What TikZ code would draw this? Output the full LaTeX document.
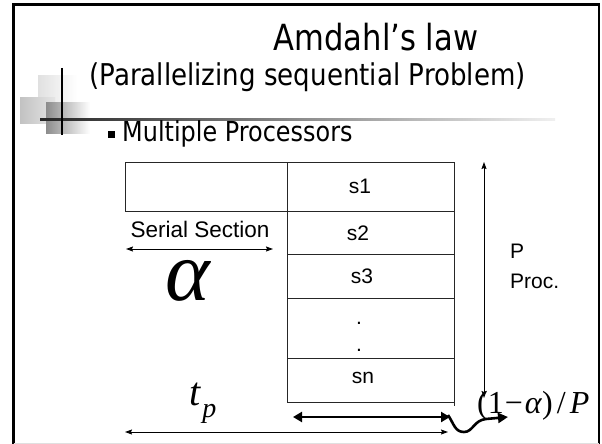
\documentclass[tikz,border=0pt]{standalone}
\usepackage{fontspec}
\setmainfont{Liberation Sans}
\newfontfamily\tah[FakeStretch=0.87]{DejaVu Sans}
\newfontfamily\tahT[FakeStretch=0.85]{DejaVu Sans}
\newfontfamily\tnr{Liberation Serif}
\usetikzlibrary{arrows.meta}
\begin{document}
\begin{tikzpicture}[x=1pt,y=-1pt,
  thinarr/.style={line width=0.9pt, {Stealth[length=7pt,width=5pt,inset=1pt]}-{Stealth[length=7pt,width=5pt,inset=1pt]}},
  thickarr/.style={line width=2.8pt, {Triangle[length=9pt,width=10pt]}-{Triangle[length=9pt,width=10pt]}},
  cellline/.style={draw=black!85, line width=0.9pt},
  lbl/.style={font=\fontsize{21}{21}\selectfont, inner sep=0pt, anchor=base},
  tahtext/.style={inner sep=0pt, anchor=base}
]
\useasboundingbox (0,0) rectangle (602,444);
% slide frame
\draw[line width=2.5pt] (13.5,445) -- (13.5,4.5) -- (599,4.5) -- (599,445);
\draw[black!12, line width=1pt] (13.5,443) -- (599,443);
% decoration
\shade[left color=black!12, right color=white] (38,75) rectangle (77,105);
\shade[left color=black!24, right color=black!10] (20,97) rectangle (55,123);
\shade[left color=black!45, middle color=black!38, right color=white] (46,102) rectangle (90,133);
\shade[left color=black!85, right color=black!6] (40,118) rectangle (555,120);
\draw[line width=1.3pt] (62,68) -- (62,135);
% titles
\node[tahtext, font=\tahT\fontsize{36}{36}\selectfont] (title) at (376,51) {Amdahl’s law};
\node[tahtext, font=\tah\fontsize{30}{30}\selectfont] (subtitle) at (307.5,85) {(Parallelizing sequential Problem)};
\node[fill, minimum size=7pt, inner sep=0pt] (bullet) at (111,134) {};
\node[tahtext, anchor=base west, font=\tah\fontsize{27.5}{27.5}\selectfont] (mp) at (122,141) {Multiple Processors};
% table
\draw[cellline] (125,162) -- (454,162);
\draw[cellline] (125,162) -- (125,211);
\draw[cellline] (125,211) -- (454,211);
\draw[cellline] (454,162) -- (454,406);
\draw[cellline] (287,162) -- (287,402);
\draw[cellline] (287,254) -- (454,254);
\draw[cellline] (287,298) -- (454,298);
\draw[cellline] (287,358) -- (454,358);
\draw[cellline] (287,402) -- (454,402);
\node[lbl] (s1) at (360,193) {s1};
\node[lbl] (s2) at (358,240) {s2};
\node[lbl] (s3) at (362,283) {s3};
\node[lbl] (d1) at (359,324) {.};
\node[lbl] (d2) at (359,351) {.};
\node[lbl] (sn) at (363,383) {sn};
% labels
\node[lbl, font=\fontsize{22.5}{22.5}\selectfont] (ser) at (200,237) {Serial Section};
\node[lbl, anchor=base west] (p1) at (510,258) {P};
\node[lbl, anchor=base west] (p2) at (510,288) {Proc.};
\node[inner sep=0pt, anchor=base, text height=40pt, text depth=0pt, font=\tnr\itshape\fontsize{85}{85}\selectfont] (alpha) at (188,300) {α};
\node[inner sep=0pt, anchor=base west, font=\tnr\itshape\fontsize{40}{40}\selectfont] (tp) at (189,405) {t\hspace{2pt}\raisebox{-12pt}{\fontsize{28}{28}\selectfont p}};
\node[inner sep=0pt, anchor=base west, font=\tnr\fontsize{32}{32}\selectfont] (frac) at (477,413) {(1\kern1pt−\kern2pt\textit{α})\kern4pt/\kern4pt\textit{P}};
% connectors
\coordinate (ssL) at (126,249);
\coordinate (ssR) at (273,249);
\coordinate (vT) at (484,162);
\coordinate (vB) at (484,398);
\coordinate (thL) at (293,417);
\coordinate (thR) at (450,417);
\coordinate (tbL) at (125,432);
\coordinate (tbR) at (448,432);
\coordinate (wS) at (448,415);
\coordinate (wE) at (508,417);
\draw[thinarr] (ssL) -- (ssR);
\draw[thinarr] (vT) -- (vB);
\draw[thinarr] (tbL) -- (tbR);
\draw[thickarr] (thL) -- (thR);
\draw[line width=2.6pt, -{Triangle[length=10pt,width=10pt]}] (wS) .. controls (454,424) and (455,432) .. (464,432) .. controls (473,432) and (474,420) .. (486,419) -- (wE);
\end{tikzpicture}
\end{document}
